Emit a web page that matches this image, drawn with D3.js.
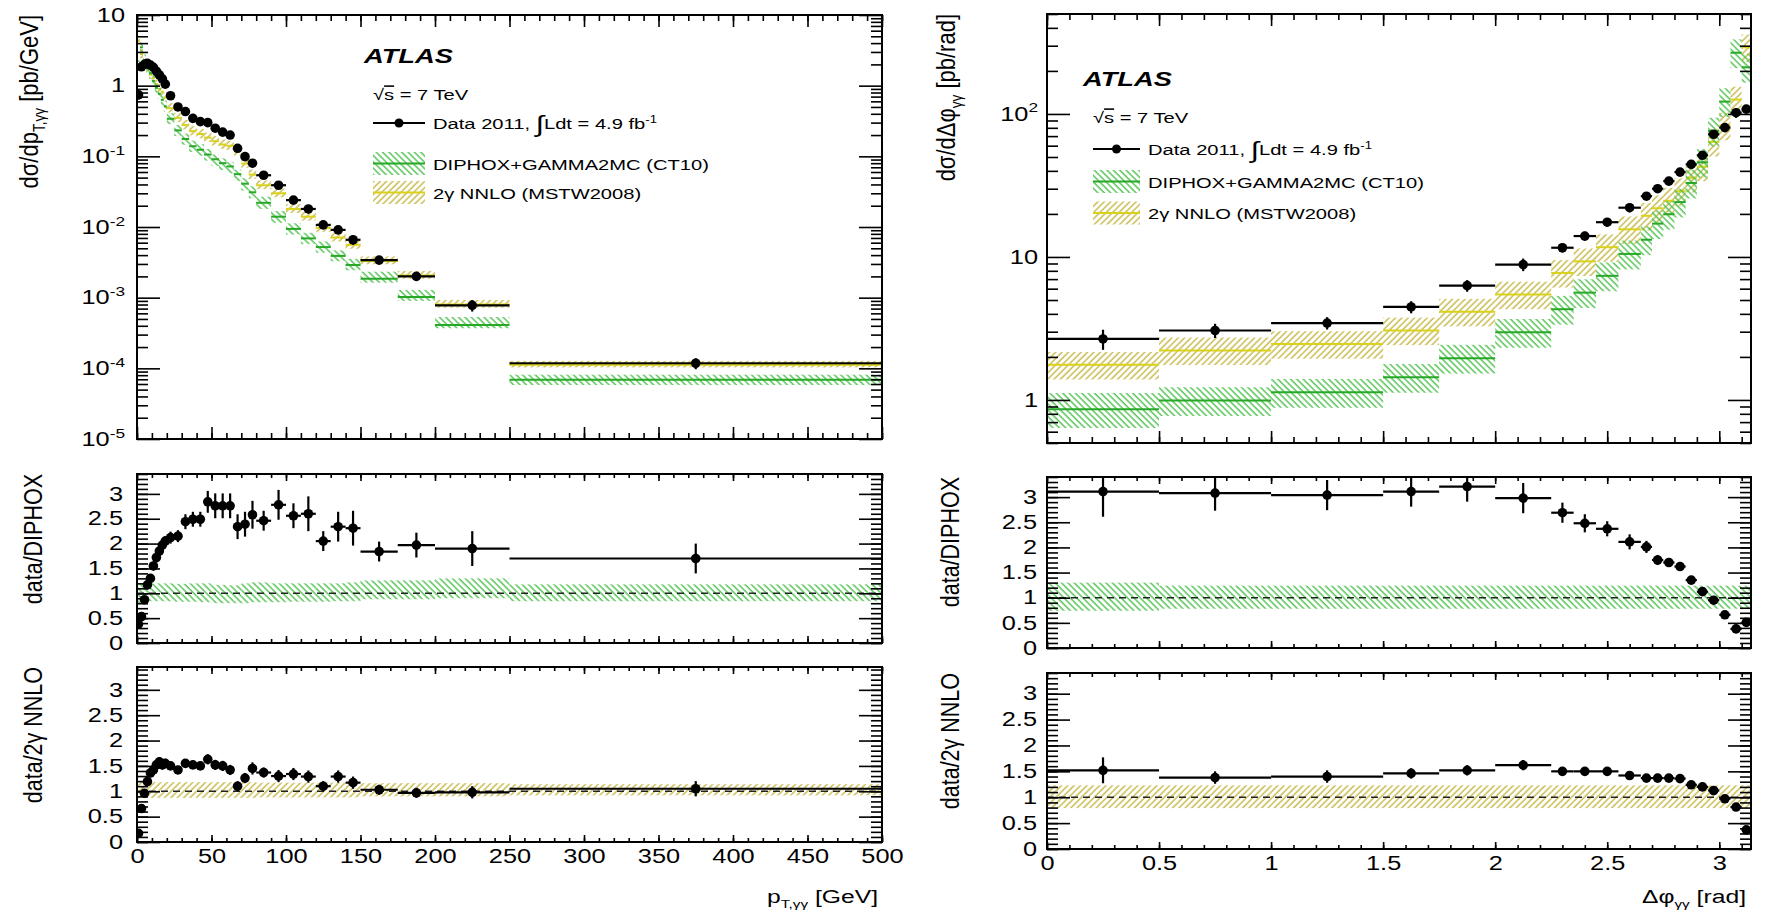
<!DOCTYPE html>
<html>
<head>
<meta charset="utf-8">
<script src="https://cdn.jsdelivr.net/npm/d3@7/dist/d3.min.js"></script>
<style>
  body { margin: 0; background: #fff; }
</style>
</head>
<body>
<script>

// ---- left column: p_T,yy ----
const ptEdges = [0,2,4,6,8,10,12,14,16,18,20,25,30,35,40,45,50,55,60,65,70,75,80,90,100,110,120,130,140,150,175,200,250,500];
const ptData   = [0.74,1.85,2.0,2.07,1.95,1.82,1.6,1.42,1.25,1.05, 0.72,0.50,0.43,0.345,0.31,0.30,0.25,0.22,0.20,0.13,0.099,0.080, 0.054,0.039,0.024,0.018,0.0107,0.0091,0.0066, 0.0034,0.0020,0.00078,0.000118];
const ptDiphox = [1.95,3.49,2.30,1.77,1.50,1.17,0.93,0.77,0.63,0.51, 0.34,0.233,0.176,0.139,0.124,0.106,0.091,0.080,0.072,0.056,0.041,0.031, 0.022,0.014,0.0094,0.0069,0.0052,0.0039,0.0029, 0.00185,0.00102,0.00041,0.000069];
const ptNnlo   = [4.35,2.80,2.08,1.74,1.43,1.28,1.05,0.90,0.82,0.68, 0.48,0.35,0.277,0.227,0.207,0.184,0.164,0.147,0.141,0.118,0.079,0.055, 0.039,0.030,0.018,0.014,0.0097,0.0071,0.0056, 0.0033,0.00206,0.0008,0.000112];
const ptRatioD = [0.38,0.53,0.87,1.17,1.30,1.55,1.72,1.85,1.97,2.05, 2.12,2.15,2.44,2.49,2.49,2.84,2.76,2.76,2.76,2.34,2.39,2.58, 2.46,2.78,2.56,2.60,2.05,2.34,2.31, 1.84,1.97,1.90,1.70];
const ptErrD   = [0.05,0.06,0.07,0.08,0.08,0.09,0.10,0.10,0.10,0.10, 0.12,0.12,0.15,0.15,0.15,0.22,0.25,0.25,0.25,0.25,0.25,0.28, 0.20,0.30,0.25,0.35,0.20,0.30,0.35, 0.20,0.25,0.35,0.30];
const ptRatioN = [0.17,0.66,0.96,1.19,1.36,1.42,1.52,1.58,1.52,1.55, 1.50,1.42,1.55,1.52,1.50,1.63,1.52,1.50,1.42,1.10,1.26,1.45, 1.37,1.30,1.34,1.29,1.10,1.29,1.17, 1.03,0.97,0.98,1.05];
const ptErrN   = [0.04,0.05,0.06,0.07,0.08,0.08,0.09,0.09,0.09,0.09, 0.08,0.08,0.08,0.08,0.08,0.10,0.10,0.10,0.10,0.10,0.10,0.12, 0.10,0.12,0.12,0.12,0.10,0.12,0.12, 0.10,0.10,0.12,0.15];
const ptBandDLo = [0.80,0.82,0.83,0.84,0.84,0.84,0.84,0.84,0.84,0.84, 0.84,0.83,0.83,0.83,0.82,0.82,0.80,0.80,0.80,0.80,0.80,0.82, 0.82,0.82,0.83,0.83,0.83,0.84,0.84, 0.88,0.88,0.90,0.84];
const ptBandDHi = [1.18,1.20,1.20,1.20,1.20,1.20,1.20,1.20,1.20,1.20, 1.20,1.19,1.19,1.20,1.20,1.20,1.17,1.17,1.16,1.16,1.20,1.22, 1.22,1.20,1.20,1.20,1.20,1.20,1.22, 1.26,1.26,1.30,1.18];
const ptBandNLo = [0.86,0.87,0.87,0.87,0.87,0.87,0.87,0.87,0.87,0.87, 0.87,0.87,0.87,0.87,0.87,0.87,0.87,0.87,0.87,0.87,0.87,0.87, 0.88,0.88,0.88,0.88,0.88,0.88,0.88, 0.90,0.90,0.90,0.92];
const ptBandNHi = [1.18,1.18,1.18,1.18,1.18,1.18,1.18,1.18,1.18,1.18, 1.18,1.18,1.18,1.18,1.18,1.18,1.18,1.18,1.18,1.18,1.18,1.18, 1.17,1.17,1.17,1.17,1.17,1.17,1.17, 1.16,1.16,1.16,1.14];

// ---- right column: delta phi_yy ----
const phiEdges = [0,0.5,1.0,1.5,1.75,2.0,2.25,2.35,2.45,2.55,2.65,2.7,2.75,2.8,2.85,2.9,2.95,3.0,3.05,3.1,Math.PI];
const phiData   = [2.67,3.06,3.45,4.47,6.30,8.85,11.6,14.0,17.5,22.1,26.6,30.0,33.9,39.2,44.4,51.4,72.1,80.3,102,108];
const phiDiphox = [0.86,0.99,1.13,1.44,1.96,2.97,4.31,5.63,7.38,10.5,13.2,17.1,19.9,24.2,32.9,45.9,75.9,122,268,212];
const phiNnlo   = [1.76,2.22,2.46,3.06,4.14,5.46,7.73,9.31,11.7,15.6,19.4,21.9,24.7,28.8,35.8,42.8,63.8,82.8,126,292];
const phiRatioD = [3.11,3.08,3.04,3.11,3.21,2.98,2.69,2.48,2.37,2.11,2.01,1.75,1.70,1.62,1.35,1.12,0.95,0.66,0.38,0.51];
const phiErrD   = [0.50,0.35,0.30,0.30,0.30,0.30,0.20,0.18,0.15,0.15,0.12,0.10,0.08,0.06,0.05,0.04,0.03,0.03,0.03,0.03];
const phiRatioN = [1.52,1.38,1.40,1.46,1.52,1.62,1.50,1.50,1.50,1.42,1.37,1.37,1.37,1.36,1.24,1.20,1.13,0.97,0.81,0.37];
const phiErrN   = [0.25,0.12,0.12,0.10,0.10,0.10,0.08,0.08,0.07,0.06,0.05,0.05,0.04,0.04,0.04,0.03,0.03,0.03,0.03,0.03];
const phiBandDLo = [0.74,0.78,0.78,0.78,0.78,0.78,0.78,0.78,0.78,0.78,0.78,0.78,0.78,0.78,0.78,0.78,0.78,0.78,0.78,0.78];
const phiBandDHi = [1.30,1.24,1.24,1.24,1.24,1.24,1.24,1.24,1.24,1.24,1.24,1.24,1.24,1.24,1.24,1.24,1.24,1.24,1.24,1.24];
const phiBandNLo = [0.79,0.79,0.79,0.79,0.79,0.79,0.79,0.79,0.79,0.79,0.79,0.79,0.79,0.79,0.79,0.79,0.79,0.79,0.79,0.79];
const phiBandNHi = [1.23,1.23,1.23,1.23,1.23,1.23,1.23,1.23,1.23,1.23,1.23,1.23,1.23,1.23,1.23,1.23,1.23,1.23,1.23,1.23];

// ---- ticks ----
const ptMajor = [0,50,100,150,200,250,300,350,400,450,500];
const phiMajor = [0,0.5,1,1.5,2,2.5,3];
const ratioMajor = [0,0.5,1,1.5,2,2.5,3];
const logMajorL = [1e-5,1e-4,1e-3,1e-2,1e-1,1,10];
const logMajorR = [1,10,100];

const FONT = "'Liberation Sans', Arial, Helvetica, sans-serif";
const SX = 1.3;       // the reference text is drawn wide

const svg = d3.select('body').append('svg')
  .attr('width', 1766).attr('height', 914)
  .attr('font-family', FONT);
const defs = svg.append('defs');

function hatch(id, color, angle) {
  const p = defs.append('pattern').attr('id', id)
    .attr('patternUnits', 'userSpaceOnUse').attr('width', 4.5).attr('height', 4.5)
    .attr('patternTransform', `rotate(${angle})`);
  p.append('line').attr('x1', 1).attr('x2', 1).attr('y1', -1).attr('y2', 6)
    .attr('stroke', color).attr('stroke-width', 1.4);
}
hatch('hD', '#4fc24f', -45);
hatch('hN', '#c6b844', 45);
const LINE_D = '#27a827', LINE_N = '#d9d11c';

function wide(sel, sx) {
  sel.each(function() {
    const x = +this.getAttribute('x') || 0, y = +this.getAttribute('y') || 0;
    this.setAttribute('x', 0); this.setAttribute('y', 0);
    this.setAttribute('transform', `translate(${x},${y}) scale(${sx},1)`);
  });
}

function powLabel(sel) {
  sel.each(function(d) {
    const t = d3.select(this), e = Math.round(Math.log10(d));
    t.text(null);
    if (e === 0) t.text('1');
    else if (e === 1) t.text('10');
    else {
      t.append('tspan').text('10');
      t.append('tspan').attr('font-size', '0.68em').attr('dy', '-0.62em').text(e);
    }
  });
}

function ticks(g, axisFn, scale, vals, len, pos, fmt, pad) {
  const a = axisFn(scale).tickValues(vals).tickSize(-len).tickPadding(pad || 0)
    .tickFormat(fmt || (() => ''));
  const ag = g.append('g').attr('transform', pos).call(a);
  ag.select('.domain').remove();
  ag.selectAll('line').attr('stroke', '#000').attr('stroke-width', 1.6);
  ag.attr('font-family', FONT).attr('font-size', 19.5);
  ag.selectAll('text').attr('fill', '#000');
  return ag;
}

function frame(x, y, o) {
  const g = svg.append('g');
  const [xa, xb] = x.range(), [yb, ya] = y.range();
  ticks(g, d3.axisBottom, x, o.xMinor, o.xMin, `translate(0,${yb})`);
  const bx = ticks(g, d3.axisBottom, x, o.xMajor, o.xMaj, `translate(0,${yb})`, o.xFmt, 7);
  ticks(g, d3.axisTop, x, o.xMinor, o.xMin, `translate(0,${ya})`);
  ticks(g, d3.axisTop, x, o.xMajor, o.xMaj, `translate(0,${ya})`);
  ticks(g, d3.axisLeft, y, o.yMinor, o.yMin, `translate(${xa},0)`);
  const ly = ticks(g, d3.axisLeft, y, o.yMajor, o.yMaj, `translate(${xa},0)`, o.yFmt, o.yPad);
  ticks(g, d3.axisRight, y, o.yMinor, o.yMin, `translate(${xb},0)`);
  ticks(g, d3.axisRight, y, o.yMajor, o.yMaj, `translate(${xb},0)`);
  if (o.log) powLabel(ly.selectAll('text'));
  wide(ly.selectAll('text'), SX);
  wide(bx.selectAll('text'), SX);
  g.append('rect').attr('x', xa).attr('y', ya).attr('width', xb - xa).attr('height', yb - ya)
    .attr('fill', 'none').attr('stroke', '#000').attr('stroke-width', 2);
}

let clipN = 0;
function content(x, y) {
  const id = 'clip' + (clipN++);
  const [xa, xb] = x.range(), [yb, ya] = y.range();
  defs.append('clipPath').attr('id', id).append('rect')
    .attr('x', xa).attr('y', ya).attr('width', xb - xa).attr('height', yb - ya);
  return svg.append('g').attr('clip-path', `url(#${id})`);
}

function band(g, x, y, edges, cen, lo, hi, pat, lineCol) {
  const d = cen.map((c, i) => ({x0: edges[i], x1: edges[i + 1], c, lo: c * lo[i], hi: c * hi[i]}));
  g.append('g').selectAll('rect').data(d).join('rect')
    .attr('x', b => x(b.x0)).attr('width', b => x(b.x1) - x(b.x0))
    .attr('y', b => y(b.hi)).attr('height', b => y(b.lo) - y(b.hi))
    .attr('fill', `url(#${pat})`);
  if (lineCol) g.append('g').selectAll('line').data(d).join('line')
    .attr('x1', b => x(b.x0)).attr('x2', b => x(b.x1))
    .attr('y1', b => y(b.c)).attr('y2', b => y(b.c))
    .attr('stroke', lineCol).attr('stroke-width', 2);
}

function points(g, x, y, edges, vals, errs) {
  const d = vals.map((v, i) => ({x0: edges[i], x1: edges[i + 1], v, e: errs[i]}));
  const mid = b => x((b.x0 + b.x1) / 2);
  const pg = g.append('g').attr('stroke', '#000').attr('stroke-width', 2.2);
  pg.selectAll('.h').data(d).join('line').attr('class', 'h')
    .attr('x1', b => x(b.x0)).attr('x2', b => x(b.x1))
    .attr('y1', b => y(b.v)).attr('y2', b => y(b.v));
  pg.selectAll('.v').data(d).join('line').attr('class', 'v')
    .attr('x1', mid).attr('x2', mid)
    .attr('y1', b => y(b.v - b.e)).attr('y2', b => y(b.v + b.e));
  g.append('g').selectAll('circle').data(d).join('circle')
    .attr('cx', mid).attr('cy', b => y(b.v)).attr('r', 4.8).attr('fill', '#000');
}

function unity(g, x, y) {
  g.append('line').attr('x1', x.range()[0]).attr('x2', x.range()[1])
    .attr('y1', y(1)).attr('y2', y(1))
    .attr('stroke', '#222').attr('stroke-width', 1.5).attr('stroke-dasharray', '7,5');
}

// ---- scales ----
const xL = d3.scaleLinear([0, 500], [137, 882]);
const xR = d3.scaleLinear([0, Math.PI], [1047, 1751]);
const yLT = d3.scaleLog([1e-5, 10], [439, 15]);
const yLM = d3.scaleLinear([0, 3.4], [643, 474]);
const yLB = d3.scaleLinear([0, 3.45], [842, 667]);
const yRT = d3.scaleLog([0.5, 500], [443, 14]);
const yRM = d3.scaleLinear([0, 3.4], [648, 477]);
const yRB = d3.scaleLinear([0, 3.4], [849, 673]);

const ptMinor = d3.range(0, 501, 10);
const phiMinor = d3.range(0, 3.15, 0.1);
const ratioMinor = d3.range(0, 3.45, 0.1);
const logMinorL = [], logMinorR = [];
[1e-5, 1e-4, 1e-3, 1e-2, 1e-1, 1].forEach(dec => d3.range(2, 10).forEach(k => logMinorL.push(k * dec)));
[0.1, 1, 10, 100].forEach(dec => d3.range(2, 10).forEach(k => {
  const v = k * dec; if (v >= 0.5 && v <= 500) logMinorR.push(v);
}));

const ones = n => d3.range(n).map(() => 1);
const numFmt = d => String(d);

// ---- left top ----
let g = content(xL, yLT);
band(g, xL, yLT, ptEdges, ptNnlo, ptBandNLo, ptBandNHi, 'hN', LINE_N);
band(g, xL, yLT, ptEdges, ptDiphox, ptBandDLo, ptBandDHi, 'hD', LINE_D);
points(g, xL, yLT, ptEdges, ptData, ptData.map((v, i) => v * ptErrD[i] / ptRatioD[i]));
frame(xL, yLT, {xMajor: ptMajor, xMinor: ptMinor, xMaj: 12, xMin: 6,
  yMajor: logMajorL, yMinor: logMinorL, yMaj: 23, yMin: 11, yFmt: d => d, yPad: 12, log: true});

// ---- left middle ----
g = content(xL, yLM);
band(g, xL, yLM, ptEdges, ones(ptData.length), ptBandDLo, ptBandDHi, 'hD');
unity(g, xL, yLM);
points(g, xL, yLM, ptEdges, ptRatioD, ptErrD);
frame(xL, yLM, {xMajor: ptMajor, xMinor: ptMinor, xMaj: 7, xMin: 4,
  yMajor: ratioMajor, yMinor: ratioMinor, yMaj: 23, yMin: 11, yFmt: numFmt, yPad: 14});

// ---- left bottom ----
g = content(xL, yLB);
band(g, xL, yLB, ptEdges, ones(ptData.length), ptBandNLo, ptBandNHi, 'hN');
unity(g, xL, yLB);
points(g, xL, yLB, ptEdges, ptRatioN, ptErrN);
frame(xL, yLB, {xMajor: ptMajor, xMinor: ptMinor, xMaj: 7, xMin: 4, xFmt: numFmt,
  yMajor: ratioMajor, yMinor: ratioMinor, yMaj: 23, yMin: 11, yFmt: numFmt, yPad: 14});

// ---- right top ----
g = content(xR, yRT);
band(g, xR, yRT, phiEdges, phiNnlo, phiBandNLo, phiBandNHi, 'hN', LINE_N);
band(g, xR, yRT, phiEdges, phiDiphox, phiBandDLo, phiBandDHi, 'hD', LINE_D);
points(g, xR, yRT, phiEdges, phiData, phiData.map((v, i) => v * phiErrD[i] / phiRatioD[i]));
frame(xR, yRT, {xMajor: phiMajor, xMinor: phiMinor, xMaj: 12, xMin: 6,
  yMajor: logMajorR, yMinor: logMinorR, yMaj: 23, yMin: 11, yFmt: d => d, yPad: 9, log: true});

// ---- right middle ----
g = content(xR, yRM);
band(g, xR, yRM, phiEdges, ones(phiData.length), phiBandDLo, phiBandDHi, 'hD');
unity(g, xR, yRM);
points(g, xR, yRM, phiEdges, phiRatioD, phiErrD);
frame(xR, yRM, {xMajor: phiMajor, xMinor: phiMinor, xMaj: 7, xMin: 4,
  yMajor: ratioMajor, yMinor: ratioMinor, yMaj: 23, yMin: 11, yFmt: numFmt, yPad: 10});

// ---- right bottom ----
g = content(xR, yRB);
band(g, xR, yRB, phiEdges, ones(phiData.length), phiBandNLo, phiBandNHi, 'hN');
unity(g, xR, yRB);
points(g, xR, yRB, phiEdges, phiRatioN, phiErrN);
frame(xR, yRB, {xMajor: phiMajor, xMinor: phiMinor, xMaj: 7, xMin: 4, xFmt: numFmt,
  yMajor: ratioMajor, yMinor: ratioMinor, yMaj: 23, yMin: 11, yFmt: numFmt, yPad: 10});

// ---- axis titles ----
function yTitle(x, y, size, parts) {
  const t = svg.append('text').attr('text-anchor', 'end').attr('font-size', size)
    .attr('transform', `translate(${x},${y}) rotate(-90) scale(1,1.2)`);
  parts(t);
}
function sub(t, main, s, rest) {
  t.append('tspan').text(main);
  t.append('tspan').attr('font-size', '0.62em').attr('dy', '0.45em').text(s);
  t.append('tspan').attr('dy', '-0.28em').text(rest);
}
yTitle(38, 15, 22, t => sub(t, 'dσ/dp', 'T,γγ', '\u00a0[pb/GeV]'));
yTitle(42, 474, 21.5, t => t.text('data/DIPHOX'));
yTitle(42, 667, 21.5, t => t.text('data/2γ\u00a0NNLO'));
yTitle(955, 14, 22, t => sub(t, 'dσ/dΔφ', 'γγ', '\u00a0[pb/rad]'));
yTitle(959, 477, 21.5, t => t.text('data/DIPHOX'));
yTitle(959, 673, 21.5, t => t.text('data/2γ\u00a0NNLO'));

function xTitle(x, y, main, s, rest) {
  const t = svg.append('text').attr('text-anchor', 'end').attr('font-size', 19)
    .attr('transform', `translate(${x},${y}) scale(${SX},1)`);
  sub(t, main, s, rest);
}
xTitle(878, 903, 'p', 'T,γγ', '\u00a0[GeV]');
xTitle(1746, 903, 'Δφ', 'γγ', '\u00a0[rad]');

// ---- legends ----
function legend(o) {
  const lg = svg.append('g');
  const txt = (x, y, size) => lg.append('text').attr('font-size', size)
    .attr('transform', `translate(${x},${y}) scale(${SX},1)`);
  txt(o.atlas[0], o.atlas[1], 21).attr('font-weight', 'bold').attr('font-style', 'italic').text('ATLAS');
  const s = txt(o.sqrt[0], o.sqrt[1], 15.5);
  s.append('tspan').text('√');
  s.append('tspan').style('text-decoration', 'overline').text('s');
  s.append('tspan').text('\u00a0= 7 TeV');
  // data row
  lg.append('line').attr('x1', o.bx).attr('x2', o.bx + o.bw).attr('y1', o.data).attr('y2', o.data)
    .attr('stroke', '#000').attr('stroke-width', 2);
  lg.append('circle').attr('cx', o.bx + o.bw / 2).attr('cy', o.data).attr('r', 4.5).attr('fill', '#000');
  const d = txt(o.tx, o.data + 6, 15.5);
  d.append('tspan').text('Data 2011,\u00a0');
  d.append('tspan').attr('font-size', '1.5em').attr('dy', '0.12em').text('∫');
  d.append('tspan').attr('dy', '-0.18em').text('Ldt = 4.9 fb');
  d.append('tspan').attr('font-size', '0.65em').attr('dy', '-0.6em').text('-1');
  // theory rows
  [[o.diphox, 'hD', LINE_D, 'DIPHOX+GAMMA2MC (CT10)'], [o.nnlo, 'hN', LINE_N, '2γ\u00a0NNLO (MSTW2008)']]
    .forEach(([cy, pat, col, label]) => {
      lg.append('rect').attr('x', o.bx).attr('y', cy - 11.5).attr('width', o.bw).attr('height', 23)
        .attr('fill', `url(#${pat})`);
      lg.append('line').attr('x1', o.bx).attr('x2', o.bx + o.bw).attr('y1', cy).attr('y2', cy)
        .attr('stroke', col).attr('stroke-width', 2);
      txt(o.tx, cy + 6, 15.5).text(label);
    });
}
legend({atlas: [364, 63], sqrt: [373, 100], bx: 373, bw: 52, tx: 433, data: 123, diphox: 163.5, nnlo: 192.5});
legend({atlas: [1083, 86], sqrt: [1093, 123], bx: 1093, bw: 47, tx: 1148, data: 149, diphox: 181.5, nnlo: 213});

</script>
</body>
</html>
